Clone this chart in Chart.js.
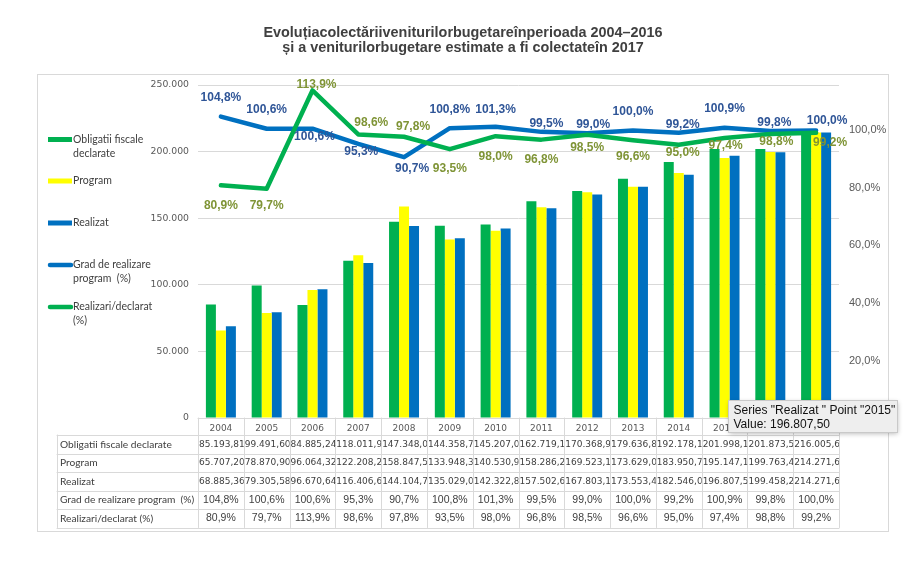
<!DOCTYPE html>
<html>
<head>
<meta charset="utf-8">
<script src="https://cdn.jsdelivr.net/npm/chart.js@4.4.0/dist/chart.umd.min.js"></script>
<style>
html,body{margin:0;padding:0;background:#fff;}
#wrap{width:920px;height:568px;position:relative;}
</style>
</head>
<body>
<div id="wrap"><canvas id="c" width="920" height="568"></canvas></div>
<script>
// ---- data ----
const years = ['2004','2005','2006','2007','2008','2009','2010','2011','2012','2013','2014','2015','2016','2017'];
const obligatiiDeclarate = [85193.81, 99491.60, 84885.24, 118011.90, 147348.00, 144358.70, 145207.00, 162719.10, 170368.90, 179636.80, 192178.10, 201998.10, 201873.50, 216005.60];
const program = [65707.20, 78870.90, 96064.32, 122208.20, 158847.50, 133948.30, 140530.90, 158286.20, 169523.10, 173629.00, 183950.70, 195147.10, 199763.40, 214271.60];
const realizat = [68885.36, 79305.58, 96670.64, 116406.60, 144104.70, 135029.00, 142322.80, 157502.60, 167803.10, 173553.40, 182546.00, 196807.50, 199458.20, 214271.60];
const gradRealizare = [104.8, 100.6, 100.6, 95.3, 90.7, 100.8, 101.3, 99.5, 99.0, 100.0, 99.2, 100.9, 99.8, 100.0];
const realizariDeclarat = [80.9, 79.7, 113.9, 98.6, 97.8, 93.5, 98.0, 96.8, 98.5, 96.6, 95.0, 97.4, 98.8, 99.2];
const leftTicks = [0, 50000, 100000, 150000, 200000, 250000];
const rightTicks = [0, 20, 40, 60, 80, 100];
const seriesNames = ['Obligatii fiscale declarate', 'Program', 'Realizat ', 'Grad de realizare program  (%)', 'Realizari/declarat (%)'];
const titleLines = ['Evoluțiacolectăriiveniturilorbugetareînperioada 2004–2016', 'și a veniturilorbugetare estimate a fi colectateîn 2017'];
const tooltipIndex = 11;

// ---- style ----
const C_GREEN = '#00B050', C_YELLOW = '#FFFF00', C_BLUE = '#0070C0';
const C_LBL_BLUE = '#2F5597', C_LBL_GREEN = '#7F9436';
const GRID = '#D9D9D9', TXT = '#404040', AX = '#595959';
const NARROW = 'Lato, "Open Sans", sans-serif';
const SANS = '"Liberation Sans", Arial, sans-serif';
const DEJA = '"DejaVu Sans", sans-serif';
// label nudges (pixels) for the line value labels
const gradNudge = [[0,-19],[0,-19],[2,8],[3,8],[8,12],[0,-18],[0,-17],[5,-8],[6,-9],[0,-19],[4,-8],[0,-19],[4,-8],[11,-10]];
const realNudge = [[0,20],[0,17],[4,-6],[13,-12],[9,-10],[0,20],[0,21],[0,20],[0,13],[0,16],[4,8],[1,8],[6,8],[14,10]];

function fmtNum(v, dec) {
  const s = v.toFixed(dec);
  const parts = s.split('.');
  const i = parts[0].replace(/\B(?=(\d{3})+(?!\d))/g, '.');
  return parts.length > 1 ? i + ',' + parts[1] : i;
}
function fmtPct(v) { return v.toFixed(1).replace('.', ',') + '%'; }

const customPlugin = {
  id: 'custom',
  beforeDraw(chart) {
    const ctx = chart.ctx;
    ctx.save();
    ctx.fillStyle = '#fff';
    ctx.fillRect(0, 0, chart.width, chart.height);
    ctx.strokeStyle = GRID;
    ctx.lineWidth = 1;
    ctx.strokeRect(37.5, 74.5, 851, 457);
    ctx.restore();
  },
  afterDatasetsDraw(chart) {
    const ctx = chart.ctx;
    ctx.save();
    ctx.font = 'bold 12px ' + SANS;
    ctx.textAlign = 'center';
    ctx.textBaseline = 'middle';
    const specs = [[3, gradRealizare, C_LBL_BLUE, gradNudge], [4, realizariDeclarat, C_LBL_GREEN, realNudge]];
    specs.forEach(([di, vals, col, nudge]) => {
      const meta = chart.getDatasetMeta(di);
      ctx.fillStyle = col;
      meta.data.forEach((pt, i) => {
        ctx.fillText(fmtPct(vals[i]), pt.x + nudge[i][0], pt.y + nudge[i][1]);
      });
    });
    ctx.restore();
  },
  afterDraw(chart) {
    const ctx = chart.ctx;
    const x = chart.scales.x;
    const area = chart.chartArea;
    ctx.save();
    // title
    ctx.fillStyle = TXT;
    ctx.font = 'bold 14.4px ' + SANS;
    ctx.textAlign = 'center';
    ctx.textBaseline = 'middle';
    ctx.fillText(titleLines[0], 463, 33);
    ctx.fillText(titleLines[1], 463, 48);

    // legend
    const legendY = [139.5, 181, 223, 265, 307];
    const legendCols = [C_GREEN, C_YELLOW, C_BLUE, C_BLUE, C_GREEN];
    ctx.font = '10.5px ' + NARROW;
    ctx.textAlign = 'left';
    ctx.textBaseline = 'middle';
    seriesNames.forEach((name, k) => {
      const y = legendY[k];
      if (k < 3) {
        ctx.fillStyle = legendCols[k];
        ctx.fillRect(48, y - 2.5, 24, 5);
      } else {
        ctx.strokeStyle = legendCols[k];
        ctx.lineWidth = 4.5;
        ctx.lineCap = 'round';
        ctx.beginPath(); ctx.moveTo(50, y); ctx.lineTo(71, y); ctx.stroke();
      }
      // wrap
      const words = name.trim().split(' ');
      const lines = [];
      let cur = '';
      words.forEach(w => {
        const test = cur ? cur + ' ' + w : w;
        if (cur && ctx.measureText(test).width > 88) { lines.push(cur); cur = w; } else cur = test;
      });
      if (cur) lines.push(cur);
      ctx.fillStyle = TXT;
      lines.forEach((ln, j) => ctx.fillText(ln, 73, y + j * 14));
    });

    // table
    const n = years.length;
    const left = x.getPixelForValue(0) - (x.getPixelForValue(1) - x.getPixelForValue(0)) / 2;
    const cw = x.getPixelForValue(1) - x.getPixelForValue(0);
    const right = left + cw * n;
    const top = 435, rh = 18.5, rows = 5, tabLeft = 57;
    const bottom = top + rh * rows;
    ctx.strokeStyle = GRID;
    ctx.lineWidth = 1;
    ctx.beginPath();
    // x axis line
    ctx.moveTo(left, Math.round(area.bottom) + 0.5); ctx.lineTo(right, Math.round(area.bottom) + 0.5);
    for (let r = 0; r <= rows; r++) {
      const yy = Math.round(top + r * rh) + 0.5;
      ctx.moveTo(tabLeft, yy); ctx.lineTo(right, yy);
    }
    ctx.moveTo(tabLeft + 0.5, top); ctx.lineTo(tabLeft + 0.5, bottom);
    for (let c = 0; c <= n; c++) {
      const xx = Math.round(left + c * cw) + 0.5;
      ctx.moveTo(xx, area.bottom); ctx.lineTo(xx, bottom);
    }
    ctx.stroke();

    const rowNames = ['Obligatii fiscale declarate', 'Program', 'Realizat', 'Grad de realizare program  (%)', 'Realizari/declarat (%)'];
    const rowVals = [obligatiiDeclarate, program, realizat, gradRealizare, realizariDeclarat];
    ctx.textBaseline = 'middle';
    rowNames.forEach((nm, r) => {
      const cy = top + r * rh + rh / 2;
      ctx.font = '10.2px ' + NARROW;
      ctx.textAlign = 'left';
      ctx.fillStyle = TXT;
      ctx.fillText(nm, tabLeft + 3, cy);
      for (let c = 0; c < n; c++) {
        const cx0 = left + c * cw;
        if (r < 3) {
          ctx.save();
          ctx.beginPath();
          ctx.rect(cx0 + 1, top + r * rh, cw - 1, rh);
          ctx.clip();
          ctx.font = '9px ' + DEJA;
          ctx.textAlign = 'left';
          ctx.fillText(fmtNum(rowVals[r][c], 2), cx0 + 1, cy);
          ctx.restore();
        } else {
          ctx.font = '10.5px ' + SANS;
          ctx.textAlign = 'center';
          ctx.fillText(fmtPct(rowVals[r][c]), cx0 + cw / 2, cy);
        }
      }
    });

    // hover tooltip box (as seen in the reference)
    const tx = Math.round(x.getPixelForValue(tooltipIndex)) + 3.5;
    const ty = Math.round(area.bottom) - 17.5;
    const tw = 169, th = 32;
    ctx.save();
    ctx.shadowColor = 'rgba(0,0,0,0.3)';
    ctx.shadowBlur = 5;
    ctx.shadowOffsetY = 1;
    ctx.fillStyle = '#EEEEEE';
    ctx.fillRect(tx, ty, tw, th);
    ctx.restore();
    ctx.strokeStyle = '#C9C9C9';
    ctx.strokeRect(tx, ty, tw, th);
    ctx.fillStyle = '#111';
    ctx.font = '12px ' + SANS;
    ctx.textAlign = 'left';
    ctx.textBaseline = 'middle';
    ctx.fillText('Series "' + seriesNames[2] + '" Point "' + years[tooltipIndex] + '"', tx + 5, ty + 10);
    ctx.fillText('Value: ' + fmtNum(realizat[tooltipIndex], 2), tx + 5, ty + 24);
    ctx.restore();
  }
};

const chart = new Chart(document.getElementById('c'), {
  type: 'bar',
  data: {
    labels: years,
    datasets: [
      { label: seriesNames[0], data: obligatiiDeclarate, backgroundColor: C_GREEN, yAxisID: 'y', order: 2, barPercentage: 1, categoryPercentage: 0.655 },
      { label: seriesNames[1], data: program, backgroundColor: C_YELLOW, yAxisID: 'y', order: 2, barPercentage: 1, categoryPercentage: 0.655 },
      { label: seriesNames[2], data: realizat, backgroundColor: C_BLUE, yAxisID: 'y', order: 2, barPercentage: 1, categoryPercentage: 0.655 },
      { type: 'line', label: seriesNames[3], data: gradRealizare, borderColor: C_BLUE, backgroundColor: C_BLUE, borderWidth: 4.5, pointRadius: 0, tension: 0, yAxisID: 'y1', order: 1, borderCapStyle: 'round', borderJoinStyle: 'round' },
      { type: 'line', label: seriesNames[4], data: realizariDeclarat, borderColor: C_GREEN, backgroundColor: C_GREEN, borderWidth: 4.5, pointRadius: 0, tension: 0, yAxisID: 'y1', order: 0, borderCapStyle: 'round', borderJoinStyle: 'round' }
    ]
  },
  options: {
    responsive: false,
    animation: false,
    events: [],
    layout: { padding: { top: 85, left: 0, right: 0, bottom: 0 } },
    plugins: { legend: { display: false }, title: { display: false }, tooltip: { enabled: false } },
    scales: {
      x: {
        offset: true,
        grid: { display: false, drawTicks: false },
        border: { display: false },
        ticks: { color: AX, font: { family: DEJA, size: 9 }, padding: 5, maxRotation: 0, autoSkip: false },
        afterFit(s) { s.height = 150; }
      },
      y: {
        position: 'left',
        min: 0, max: 250000,
        afterBuildTicks(s) { s.ticks = leftTicks.map(v => ({ value: v })); },
        grid: { color: GRID, drawTicks: false },
        border: { display: false },
        ticks: { color: AX, font: { family: DEJA, size: 9.3 }, padding: 9, callback: v => fmtNum(v, 0) },
        afterFit(s) { s.width = 198; }
      },
      y1: {
        position: 'right',
        min: 0, max: 115.8,
        afterBuildTicks(s) { s.ticks = rightTicks.map(v => ({ value: v })); },
        grid: { display: false, drawTicks: false },
        border: { display: false },
        ticks: { color: AX, font: { family: SANS, size: 11 }, padding: 10, callback: v => fmtPct(v) },
        afterFit(s) { s.width = 81; }
      }
    }
  },
  plugins: [customPlugin]
});
</script>
</body>
</html>
